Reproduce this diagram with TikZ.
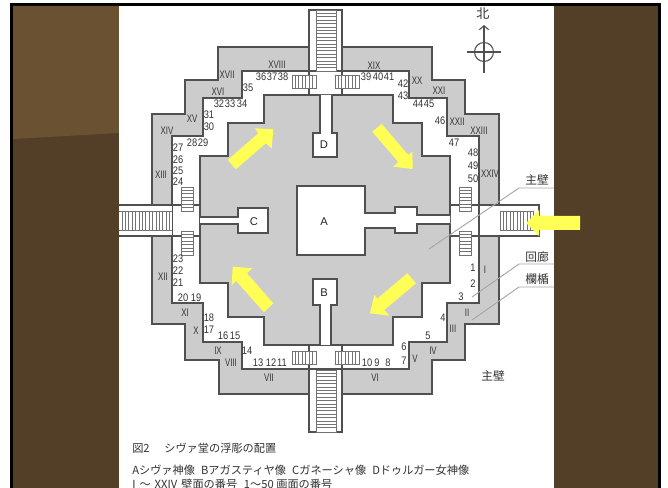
\documentclass[tikz,border=0pt]{standalone}
\usepackage{fontspec}
\setmainfont{Liberation Sans}
\newfontfamily\jpfont{Noto Sans CJK JP}
\usetikzlibrary{arrows.meta}
\definecolor{wallgray}{HTML}{CCCCCC}
\definecolor{inkgray}{HTML}{505050}
\definecolor{leadgray}{HTML}{A6A6A6}
\definecolor{arrowyellow}{HTML}{FFFF55}
\definecolor{brownlight}{HTML}{6A5132}
\definecolor{browndark}{HTML}{533F28}
\tikzset{
    plan/.style = {draw=inkgray, line width=0.8pt, line join=miter},
    steps/.style = {draw=black!55, line width=0.55pt, fill=white},
    num/.style = {inner sep=0pt, text=black!80, font=\fontsize{8.2}{9}\selectfont, xscale=0.85},
    roman/.style = {inner sep=0pt, text=black!80, font=\fontsize{8.2}{9}\selectfont, xscale=0.72},
    letter/.style = {inner sep=0pt, text=black!85, font=\fontsize{8.4}{9}\selectfont},
    jptag/.style = {inner sep=0pt, text=black!80, font=\jpfont\fontsize{8.8}{9}\selectfont},
    caption/.style = {inner sep=0pt, anchor=west, text=black!80, font=\jpfont\fontsize{8.4}{9}\selectfont},
    leader/.style = {draw=leadgray, line width=0.7pt},
    yarrow/.style = {fill=arrowyellow},
}

\begin{document}
\begin{tikzpicture}[x=0.75pt, y=-0.75pt]
    \useasboundingbox (0,0) rectangle (668,488);

    % screen around the page
    \fill[black] (10,3) rectangle (661,488);
    \fill[browndark] (13,6) rectangle (119,488);
    \fill[brownlight] (13,6) -- (119,6) -- (119,133) -- (13,139) -- cycle;
    \fill[browndark] (554,6) rectangle (658,488);
    \fill[white] (119,6) rectangle (554,488);

    % outer wall
    \draw[plan, fill=wallgray] (218,47) -- (432,47) -- (432,80) -- (465,80) -- (465,114) -- (499,114)
        -- (499,324) -- (465,324) -- (465,360) -- (432,360) -- (432,394) -- (219,394) -- (219,360)
        -- (185,360) -- (185,324) -- (152,324) -- (152,114) -- (185,114) -- (185,80) -- (218,80) -- cycle;

    % corridor
    \draw[plan, fill=white] (242,71) -- (409,71) -- (409,98) -- (447,98) -- (447,136) -- (479,136)
        -- (479,303) -- (447,303) -- (447,342) -- (409,342) -- (409,369) -- (242,369) -- (242,342)
        -- (203,342) -- (203,303) -- (172,303) -- (172,136) -- (203,136) -- (203,98) -- (242,98) -- cycle;

    % central platform
    \draw[plan, fill=wallgray] (264,95) -- (393,95) -- (393,123) -- (422,123) -- (422,156) -- (450,156)
        -- (450,283) -- (422,283) -- (422,317) -- (393,317) -- (393,345) -- (264,345) -- (264,317)
        -- (228,317) -- (228,283) -- (200,283) -- (200,156) -- (228,156) -- (228,123) -- (264,123) -- cycle;

    % shrines
    \draw[plan, fill=white] (320,95) -- (320,133) -- (313,133) -- (313,157) -- (337,157) -- (337,133) -- (332,133) -- (332,95);
    \draw[plan, fill=white] (320,345) -- (320,305) -- (313,305) -- (313,279) -- (337,279) -- (337,305) -- (331,305) -- (331,345);
    \draw[plan, fill=white] (200,217) -- (238,217) -- (238,208) -- (268,208) -- (268,233) -- (238,233) -- (238,224) -- (200,224);
    \draw[plan, fill=white] (450,215) -- (417,215) -- (417,207) -- (395,207) -- (395,213) -- (365,213) -- (365,186)
        -- (297,186) -- (297,255) -- (365,255) -- (365,228) -- (395,228) -- (395,233) -- (417,233) -- (417,224) -- (450,224);

    % cross walls of the corridor
    \draw[plan] (309,71) -- (309,95);
    \draw[plan] (342,71) -- (342,95);
    \draw[plan] (309,345) -- (309,369);
    \draw[plan] (342,345) -- (342,369);
    \draw[plan] (172,205) -- (200,205);
    \draw[plan] (172,236) -- (200,236);
    \draw[plan] (450,205) -- (499,205);
    \draw[plan] (450,236) -- (499,236);

    % north and south stairs
    \draw[plan, fill=white] (309,47) -- (309,10) -- (342,10) -- (342,47);
    \draw[plan, fill=white] (309,394) -- (309,432) -- (342,432) -- (342,394);
    \fill[white] (310,46) rectangle (341,70);
    \fill[white] (310,370) rectangle (341,431);
    \draw[plan] (309,47) -- (309,71);
    \draw[plan] (342,47) -- (342,71);
    \draw[plan] (309,369) -- (309,394);
    \draw[plan] (342,369) -- (342,394);
    \draw[steps] (316,10) rectangle (336,71);
    \draw[steps] (316,370) rectangle (336,432);
    \foreach \y in {13.4,16.8,...,69} {
        \draw[steps] (316,\y) -- (336,\y);
    }
    \foreach \y in {373.4,376.8,...,430} {
        \draw[steps] (316,\y) -- (336,\y);
    }

    % west and east stairs
    \fill[white] (119,205) rectangle (172,236);
    \draw[plan] (119,205) -- (172,205);
    \draw[plan] (119,236) -- (172,236);
    \draw[steps] (119,211) -- (172,211);
    \draw[steps] (119,230) -- (172,230);
    \foreach \x in {122,125.4,...,172} {
        \draw[steps] (\x,211) -- (\x,230);
    }
    \fill[white] (479.5,206) rectangle (539,235);
    \draw[plan] (499,205) -- (539,205) -- (539,236) -- (499,236);
    \draw[steps] (500,211) rectangle (533,230);
    \foreach \x in {503.4,506.8,...,532} {
        \draw[steps] (\x,211) -- (\x,230);
    }

    % small steps in the corridor
    \foreach \x/\y in {292/75, 335/75, 292/351, 335/351} {
        \draw[steps] (\x,\y) rectangle ++(24,13);
        \foreach \k in {1,...,6} {
            \draw[steps] ({\x+\k*24/7},\y) -- ({\x+\k*24/7},{\y+13});
        }
    }
    \foreach \x/\y in {181/187, 181/231, 459/187, 459/231} {
        \draw[steps] (\x,\y) rectangle ++(12.5,24);
        \foreach \k in {1,...,6} {
            \draw[steps] (\x,{\y+\k*24/7}) -- ({\x+12.5},{\y+\k*24/7});
        }
    }

    % direction arrows
    \fill[yarrow] (227.7,160) -- (236,169.3) -- (265.7,143.3) -- (271.7,148.3) -- (273.3,129.3) -- (255,128.3) -- (258.3,133.3) -- cycle;
    \fill[yarrow] (372.3,131.7) -- (381.7,124) -- (408.3,155) -- (412.3,151.7) -- (412.7,169) -- (393.3,166.7) -- (398.3,162) -- cycle;
    \fill[yarrow] (407.3,273.3) -- (416,283.3) -- (384.3,310) -- (389.3,315.7) -- (370,313.3) -- (374.3,295) -- (377.2,298.7) -- cycle;
    \fill[yarrow] (264,312.3) -- (273.3,303.3) -- (247,273.3) -- (252.3,268.3) -- (232.7,266.7) -- (231.7,285) -- (236.3,281) -- cycle;
    \fill[yarrow] (580,216) -- (580,230) -- (539,230) -- (539,236) -- (526,223) -- (539,210) -- (539,216) -- cycle;

    % leaders
    \coordinate (wall1) at (554,188);
    \coordinate (wall2) at (519,188);
    \coordinate (wall3) at (429,249);
    \coordinate (gallery1) at (554,264);
    \coordinate (gallery2) at (519,264);
    \coordinate (gallery3) at (472,297);
    \coordinate (fence1) at (554,287);
    \coordinate (fence2) at (519,287);
    \coordinate (fence3) at (472,320);
    \draw[leader] (wall1) -- (wall2) -- (wall3);
    \draw[leader] (gallery1) -- (gallery2) -- (gallery3);
    \draw[leader] (fence1) -- (fence2) -- (fence3);

    % panel numbers
    \foreach \txt/\px/\py [count=\i] in {
        1/473/268, 2/473/284, 3/461/297, 4/443/318, 5/428/336, 6/404/347, 7/404/361,
        8/388/363, 9/377/363, 10/367/363, 11/282/363, 12/271/363, 13/258/363, 14/247/351,
        15/235/336, 16/223/336, 17/209/330, 18/209/318, 19/196/298, 20/183/298, 21/178/283,
        22/178/271, 23/178/259, 24/178/182, 25/178/171, 26/178/160, 27/178/148, 28/192/143,
        29/203/143, 30/209/127, 31/209/115, 32/219/104, 33/230/104, 34/242/104, 35/248/88,
        36/261/77, 37/272/77, 38/283/77, 39/366/77, 40/378/77, 41/389/77, 42/403/84,
        43/403/96, 44/418/104, 45/429/104, 46/440/121, 47/454/143, 48/473/153, 49/473/166,
        50/473/179} {
        \node[num] (panel\i) at (\px,\py) {\txt};
    }

    % wall numbers
    \foreach \txt/\px/\py [count=\i] in {
        I/485/270, II/467/313, III/453/329, IV/433/351, V/415/359, VI/375/378, VII/269/378,
        VIII/231/363, IX/218/351, X/196/331, XI/185/313, XII/163/277, XIII/161/175, XIV/167/131,
        XV/192/119, XVI/218/92, XVII/227/75, XVIII/277/65, XIX/374/66, XX/417/81, XXI/439/91,
        XXII/457/122, XXIII/479/131, XXIV/490/174} {
        \node[roman] (face\i) at (\px,\py) {\txt};
    }

    % shrine letters
    \node[letter] (shrineA) at (324,222) {A};
    \node[letter] (shrineB) at (324,293) {B};
    \node[letter] (shrineC) at (254,222) {C};
    \node[letter] (shrineD) at (324,145) {D};

    % tags
    \node[jptag] (tagwall) at (537,180) {主壁};
    \node[jptag] (taggallery) at (537,257) {回廊};
    \node[jptag] (tagfence) at (537,279) {欄楯};
    \node[jptag] (tagwall2) at (493,376) {主壁};

    % compass
    \coordinate (compass) at (484,52);
    \draw[inkgray, line width=0.8pt] (compass) circle (9.5);
    \draw[inkgray, line width=0.8pt] (467,52) -- (501,52);
    \draw[inkgray, line width=0.8pt, -{Straight Barb[length=3pt, width=7pt]}] (484,73) -- (484,25);
    \node[jptag, font=\jpfont\fontsize{9.8}{10}\selectfont] (north) at (483,14) {北};

    % caption
    \node[caption] (cap1) at (132,448) {図2\hspace{11pt}シヴァ堂の浮彫の配置};
    \node[caption] (cap2) at (132,470) {Aシヴァ神像\hspace{4.5pt}Bアガスティヤ像\hspace{4.5pt}Cガネーシャ像\hspace{4.5pt}Dドゥルガー女神像};
    \node[caption] (cap3) at (132,484) {I\hspace{3pt}～\hspace{3pt}XXIV\hspace{3pt}壁面の番号\hspace{5pt}1～50 画面の番号};
\end{tikzpicture}
\end{document}
